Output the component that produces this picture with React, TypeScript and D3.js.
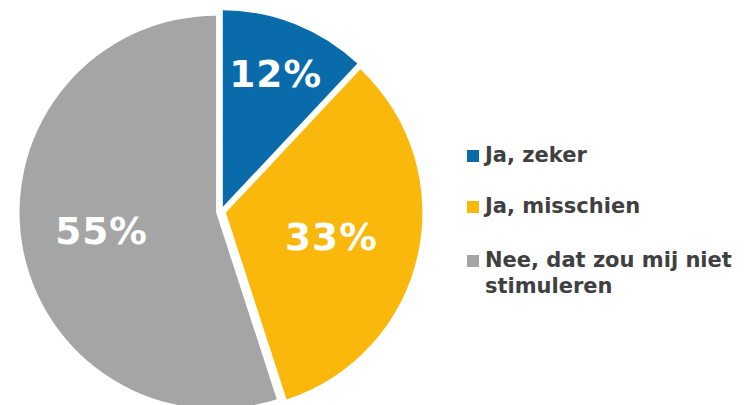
import React from "react";
import * as d3 from "d3";

// data
const categories = ["Ja, zeker", "Ja, misschien", "Nee, dat zou mij niet stimuleren"];
const values = [12, 33, 55];
const legendLines = [["Ja, zeker"], ["Ja, misschien"], ["Nee, dat zou mij niet", "stimuleren"]];
const colors = ["#0a6bab", "#f9b80b", "#a5a5a5"];

// layout
const W = 754, H = 405;
const cx = 221, cy = 211.5, R = 196.5;
const explode = 5;
const labelR = [0.73, 0.55, 0.59];
const font = "'DejaVu Sans', Verdana, sans-serif";

export default function App() {
  const pie = d3.pie<number>().sort(null).value((d) => d);
  const arcs = pie(values);
  const arc = d3.arc<d3.PieArcDatum<number>>().innerRadius(0).outerRadius(R);

  const legendY = [162, 213, 267];

  return (
    <svg width={W} height={H} style={{ position: "absolute", left: 0, top: 0, background: "#fff" }}>
      <g transform={`translate(${cx},${cy})`}>
        {arcs.map((a, i) => {
          const mid = (a.startAngle + a.endAngle) / 2;
          const ox = explode * Math.sin(mid), oy = -explode * Math.cos(mid);
          const lr = R * labelR[i];
          return (
            <g key={i} transform={`translate(${ox},${oy})`}>
              <path d={arc(a) || ""} fill={colors[i]} />
              <text
                x={lr * Math.sin(mid)}
                y={-lr * Math.cos(mid)}
                dy="0.36em"
                textAnchor="middle"
                fill="#fff"
                fontFamily={font}
                fontWeight="bold"
                fontSize={37.5}
                letterSpacing={1}
              >
                {values[i]}%
              </text>
            </g>
          );
        })}
      </g>
      {categories.map((c, i) => (
        <g key={c}>
          <rect x={467} y={legendY[i] - 12} width={12} height={12} fill={colors[i]} />
          <text x={485} y={legendY[i]} fontFamily={font} fontWeight="bold" fontSize={21} fill="#404040">
            {legendLines[i].map((l, j) => (
              <tspan key={j} x={485} dy={j === 0 ? 0 : 26}>{l}</tspan>
            ))}
          </text>
        </g>
      ))}
    </svg>
  );
}
